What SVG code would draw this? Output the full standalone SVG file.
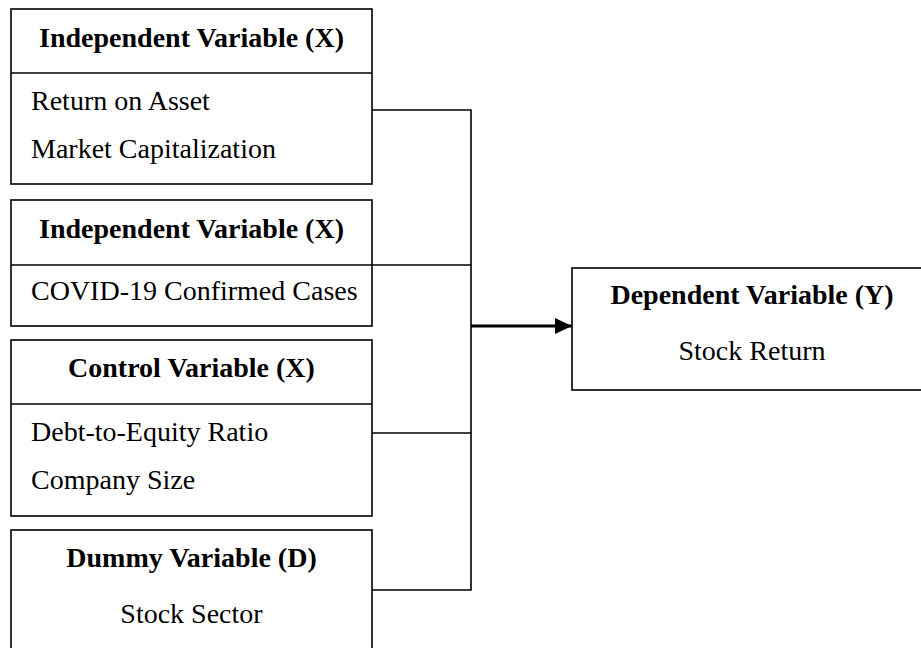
<svg xmlns="http://www.w3.org/2000/svg" width="921" height="648" viewBox="0 0 921 648">
<style>
.box{fill:#fff;stroke:#000;stroke-width:1.6}
.div{stroke:#000;stroke-width:1.6}
.hd{font-family:"Liberation Serif","Times New Roman",serif;font-weight:bold;font-size:28px;fill:#000;text-anchor:middle}
.tx{font-family:"Liberation Serif","Times New Roman",serif;font-size:28px;fill:#000}
.c{text-anchor:middle}
.con{fill:none;stroke:#000;stroke-width:1.6}
</style>
<defs>
<marker id="ah" markerUnits="userSpaceOnUse" markerWidth="18" markerHeight="16" refX="17" refY="8" orient="auto">
<path d="M0,0 L17,8 L0,16 Z" fill="#000"/>
</marker>
</defs>
<rect width="921" height="648" fill="#fff"/>
<g id="connectors">
<path class="con" d="M372,110 H471 V590 H372"/>
<path class="con" d="M372,265 H471"/>
<path class="con" d="M372,433 H471"/>
<path d="M471,326 H572" stroke="#000" stroke-width="3" marker-end="url(#ah)"/>
</g>
<g id="iv1">
<rect class="box" x="11" y="9" width="361" height="175"/>
<line class="div" x1="11" y1="73" x2="372" y2="73"/>
<text class="hd" x="191.5" y="47">Independent Variable (X)</text>
<text class="tx" x="31" y="110">Return on Asset</text>
<text class="tx" x="31" y="158">Market Capitalization</text>
</g>
<g id="iv2">
<rect class="box" x="11" y="200" width="361" height="126"/>
<line class="div" x1="11" y1="265" x2="372" y2="265"/>
<text class="hd" x="191.5" y="238">Independent Variable (X)</text>
<text class="tx" x="31" y="300">COVID-19 Confirmed Cases</text>
</g>
<g id="cv">
<rect class="box" x="11" y="340" width="361" height="176"/>
<line class="div" x1="11" y1="404" x2="372" y2="404"/>
<text class="hd" x="191.5" y="377">Control Variable (X)</text>
<text class="tx" x="31" y="441">Debt-to-Equity Ratio</text>
<text class="tx" x="31" y="489">Company Size</text>
</g>
<g id="dv">
<rect class="box" x="11" y="530" width="361" height="130"/>
<text class="hd" x="191.5" y="567">Dummy Variable (D)</text>
<text class="tx c" x="191.5" y="623">Stock Sector</text>
</g>
<g id="y">
<rect class="box" x="572" y="268" width="362" height="122"/>
<text class="hd" x="752" y="304">Dependent Variable (Y)</text>
<text class="tx c" x="752" y="360">Stock Return</text>
</g>
</svg>
